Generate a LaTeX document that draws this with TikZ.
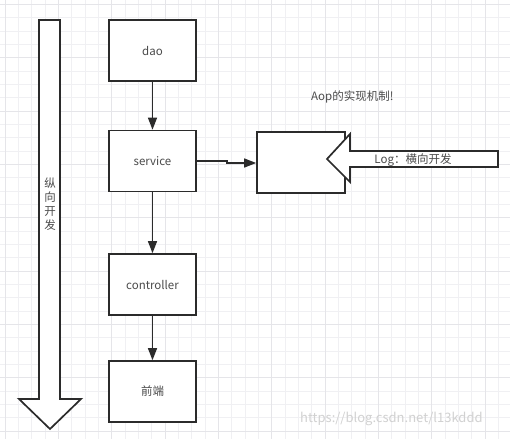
\documentclass[tikz,border=0pt]{standalone}
\usepackage{fontspec}
\setmainfont{Noto Sans CJK SC}
\usetikzlibrary{arrows.meta}
\definecolor{ink}{HTML}{2B2B2B}
\definecolor{gridminor}{HTML}{F0F0F3}
\definecolor{gridmajor}{HTML}{E5E5E9}
\tikzset{
  box/.style={draw=ink, line width=1.7pt, fill=white, minimum width=87pt, minimum height=61pt, inner sep=0pt, font=\fontsize{11.5}{13}\selectfont, text=ink!85},
  conn/.style={draw=ink, line width=1.5pt, -{Triangle[length=12pt,width=9pt]}},
  blockarrow/.style={draw=ink, line width=1.7pt, fill=white, line join=miter},
  lbl/.style={font=\fontsize{11.5}{13}\selectfont, text=ink!85, inner sep=0pt}
}
\begin{document}
\begin{tikzpicture}[x=1pt,y=-1pt]
\useasboundingbox (0,0) rectangle (510,439);
\fill[white] (0,0) rectangle (510,439);
% grid
\foreach \i in {0,...,38} {
  \pgfmathsetmacro\gx{5+13.333*\i}
  \draw[gridminor, line width=0.6pt] (\gx,0) -- (\gx,439);
}
\foreach \i in {0,...,32} {
  \pgfmathsetmacro\gy{4.3+13.333*\i}
  \draw[gridminor, line width=0.6pt] (0,\gy) -- (510,\gy);
}
\foreach \i in {0,...,9} {
  \pgfmathsetmacro\gx{5+53.333*\i}
  \draw[gridmajor, line width=0.8pt] (\gx,0) -- (\gx,439);
}
\foreach \i in {0,...,8} {
  \pgfmathsetmacro\gy{4.3+53.333*\i}
  \draw[gridmajor, line width=0.8pt] (0,\gy) -- (510,\gy);
}
% vertical development arrow
\draw[blockarrow] (39,20) -- (60,20) -- (60,399) -- (81,399) -- (50,429) -- (19,399) -- (39,399) -- cycle;
\node[lbl, align=center, font=\fontsize{11.5}{14.2}\selectfont] (vtext) at (50,204) {纵\\向\\开\\发};
% boxes
\node[box] (dao) at (152.5,50.5) {dao};
\node[box] (service) at (152.5,161) {service};
\node[box] (controller) at (152.5,284.5) {controller};
\node[box] (front) at (152.5,391.5) {前端};
\node[box, minimum width=88pt, minimum height=61pt] (aop) at (301,162.5) {};
% connectors
\draw[conn] (dao) -- (service);
\draw[conn] (service) -- (controller);
\draw[conn] (controller) -- (front);
\coordinate (j1) at (227,161);
\coordinate (j2) at (227,163);
\draw[conn] (service.east |- j1) -- (j1) -- (j2) -- (aop.west |- j2);
% Log arrow
\draw[blockarrow] (498,151) -- (350,151) -- (350,134) -- (327,159) -- (350,182) -- (350,167) -- (498,167) -- cycle;
\node[lbl] (logtext) at (413,160) {Log：横向开发};
\node[lbl, anchor=west] (title) at (311,97) {Aop的实现机制!};
% watermark
\node[font=\fontsize{13}{15}\selectfont, text=black!18, inner sep=0pt, anchor=west] (wm) at (300,419) {https://blog.csdn.net/l13kddd};
\end{tikzpicture}
\end{document}
